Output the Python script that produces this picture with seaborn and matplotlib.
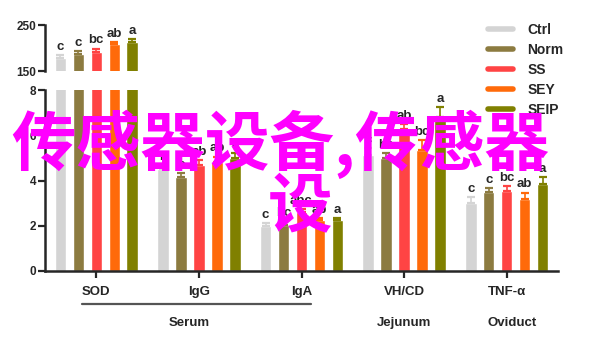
import matplotlib
matplotlib.use("Agg")
import matplotlib.pyplot as plt
from matplotlib.lines import Line2D
import seaborn as sns
import pandas as pd

# ---- data ----
groups = ["SOD", "IgG", "IgA", "VH/CD", "TNF-α"]
treatments = ["Ctrl", "Norm", "SS", "SEY", "SEIP"]
ctrl = [178, 4.5, 2.0, 5.15, 3.02]
norm = [187, 4.17, 2.05, 5.0, 3.5]
ss = [192, 4.7, 2.6, 6.3, 3.55]
sey = [210, 4.84, 2.25, 5.35, 3.19]
seip = [213, 5.0, 2.26, 6.83, 3.85]
ctrl_err = [7, 0.2, 0.12, 0.3, 0.25]
norm_err = [6, 0.15, 0.15, 0.2, 0.17]
ss_err = [7, 0.2, 0.15, 0.2, 0.2]
sey_err = [2.5, 0.22, 0.1, 0.45, 0.28]
seip_err = [7, 0.22, 0.08, 0.43, 0.32]
ctrl_sig = ["c", "b", "c", "c", "c"]
norm_sig = ["c", "c", "bc", "bc", "c"]
ss_sig = ["bc", "ab", "abc", "ab", "bc"]
sey_sig = ["ab", "ab", "ab", "bc", "ab"]
seip_sig = ["a", "a", "a", "a", "a"]
tissues = ["Serum", "Jejunum", "Oviduct"]
overlay_line1 = "传感器设备,传感器"
overlay_line2 = "设"

colors = ["#D4D4D4", "#8C7B40", "#FF4444", "#FF6A0A", "#808000"]

values = [ctrl, norm, ss, sey, seip]
errs = [ctrl_err, norm_err, ss_err, sey_err, seip_err]
sigs = [ctrl_sig, norm_sig, ss_sig, sey_sig, seip_sig]

rows = []
for t, vals in zip(treatments, values):
    for g, v in zip(groups, vals):
        rows.append({"group": g, "treatment": t, "value": v})
df = pd.DataFrame(rows)

sns.set_style("ticks")
plt.rcParams["font.family"] = ["Liberation Sans", "DejaVu Sans"]
plt.rcParams["font.weight"] = "bold"

fig = plt.figure(figsize=(6, 3.4), dpi=100)
ax_top = fig.add_axes([0.075, 0.791, 0.855, 0.135])
ax_bot = fig.add_axes([0.075, 0.203, 0.855, 0.532])

for ax, ylim in ((ax_top, (150, 250)), (ax_bot, (0, 8))):
    sns.barplot(data=df, x="group", y="value", hue="treatment",
                hue_order=treatments, order=groups, palette=colors,
                width=0.876, gap=0.36, errorbar=None, legend=False,
                saturation=1, ax=ax)
    ax.set_ylim(*ylim)
    ax.set_xlim(-0.5, 4.5)
    ax.set_xlabel("")
    ax.set_ylabel("")
    bar_conts = list(ax.containers)[:len(treatments)]
    for i, cont in enumerate(bar_conts):
        for j, bar in enumerate(cont.patches):
            x = bar.get_x() + bar.get_width() / 2
            v = values[i][j]
            e = errs[i][j]
            ax.errorbar([x], [v], yerr=[[0], [e]], fmt="none",
                        ecolor=colors[i], elinewidth=1.2, capsize=2.8,
                        capthick=1.6)
            if ylim[0] <= v + e <= ylim[1]:
                ax.annotate(sigs[i][j], (x, v + e), xytext=(0, 1.5),
                            textcoords="offset points", ha="center",
                            va="bottom", fontsize=9.5, fontweight="bold",
                            annotation_clip=False)
    for s in ("top", "right"):
        ax.spines[s].set_visible(False)
    ax.spines["left"].set_linewidth(1.8)
    ax.tick_params(axis="y", length=5, width=1.6, labelsize=8.5, pad=1.5)

ax_top.spines["bottom"].set_visible(False)
ax_top.set_xticks([])
ax_top.set_yticks([150, 250])
ax_bot.set_yticks([0, 2, 4, 6, 8])
ax_bot.spines["bottom"].set_linewidth(1.8)
ax_bot.tick_params(axis="x", length=5, width=1.6, labelsize=9.5, pad=6)
ax_bot.set_xticks(range(len(groups)))
ax_bot.set_xticklabels(groups, fontweight="bold")
for lab in ax_bot.get_yticklabels() + ax_top.get_yticklabels():
    lab.set_fontweight("bold")

# tissue grouping
ax_bot.add_line(Line2D([-0.14, 2.09], [-0.18, -0.18], color="#555555", lw=1.6,
                       transform=ax_bot.get_xaxis_transform(), clip_on=False))
for name, xpos in zip(tissues, [0.91, 3.0, 4.05]):
    ax_bot.text(xpos, -0.285, name, transform=ax_bot.get_xaxis_transform(),
                ha="center", va="center", fontsize=9.5, fontweight="bold")

# legend
handles = [Line2D([0], [0], color=c, lw=4) for c in colors]
fig.legend(handles, treatments, loc="upper left",
           bbox_to_anchor=(0.813, 0.933), frameon=False, fontsize=10,
           handlelength=1.8, handletextpad=1.05, labelspacing=0.43,
           borderaxespad=0, borderpad=0)

# overlay text
fig.text(280 / 600, 1 - 144 / 340, overlay_line1, ha="center", va="center",
         fontsize=46.5, color="#FF00FF", family=["Noto Sans CJK SC", "DejaVu Sans"],
         fontweight="bold", zorder=10)
fig.text(300 / 600, 1 - 208 / 340, overlay_line2, ha="center", va="center",
         fontsize=46.5, color="#FF00FF", family=["Noto Sans CJK SC", "DejaVu Sans"],
         fontweight="bold", zorder=10)

fig.savefig("out.png", dpi=100)
